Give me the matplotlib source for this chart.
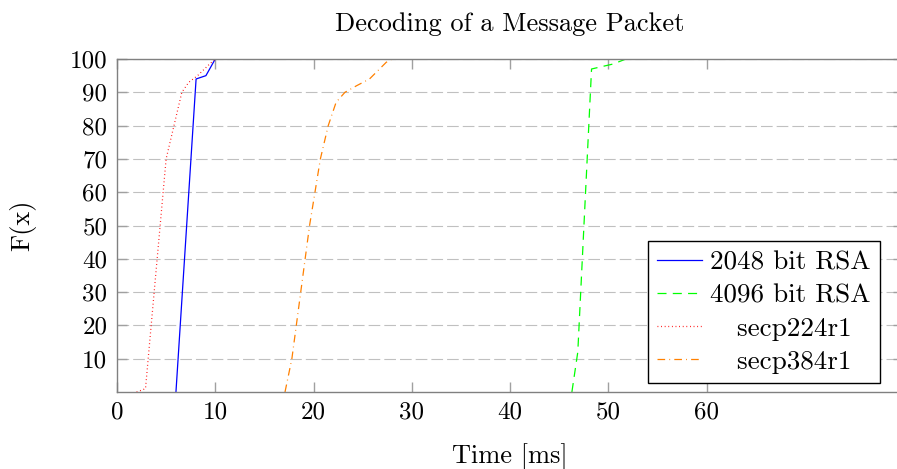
import numpy as np
import matplotlib
matplotlib.use("Agg")
import matplotlib.pyplot as plt

plt.rcParams['font.family'] = ['cmr10', 'DejaVu Serif']
plt.rcParams['font.size'] = 18
plt.rcParams['lines.scale_dashes'] = False

rsa2048_t = [6.0, 8.05, 9.05, 10.0]
rsa2048_f = [0, 94, 95, 100]

rsa4096_t = [46.3, 46.9, 48.3, 50.5, 51.8]
rsa4096_f = [0, 12, 97, 98.5, 100]

secp224_t = [2.0, 2.9, 5.0, 5.8, 6.6, 7.3, 8.2, 9.5, 10.0]
secp224_f = [0, 1, 70, 80, 90, 93, 95, 98.7, 100]

secp384_t = [17.1, 17.8, 19.6, 20.7, 21.5, 22.3, 23.2, 24.4, 25.7, 27.4, 28.0]
secp384_f = [0, 10, 50, 70, 80, 87, 90, 92, 94, 99, 100]

x_ticks = [0, 10, 20, 30, 40, 50, 60]
y_ticks = [10, 20, 30, 40, 50, 60, 70, 80, 90, 100]

fig = plt.figure(figsize=(8.97, 4.69), dpi=100)
ax = fig.add_axes([117 / 897, 1 - 392 / 469, (903 - 117) / 897, (392 - 59) / 469])

lw = 0.9
ax.plot(rsa2048_t, rsa2048_f, color='#0000ff', lw=lw, label='2048 bit RSA')
ax.plot(rsa4096_t, rsa4096_f, color='#00ff00', lw=lw, linestyle=(0, (6.5, 4.5)),
        label='4096 bit RSA')
ax.plot(secp224_t, secp224_f, color='#ff0000', lw=lw, linestyle=(0, (0.6, 2.0)),
        label='   secp224r1')
ax.plot(secp384_t, secp384_f, color='#ff8000', lw=lw,
        linestyle=(0, (5.5, 3.0, 0.6, 3.0)), label='   secp384r1')

ax.set_xlim(0, 80)
ax.set_ylim(0, 100)
ax.set_xticks(x_ticks)
ax.set_yticks(y_ticks)

ax.grid(axis='y', color='#c0c0c0', linestyle=(0, (8.4, 2.9)), lw=0.8)
ax.set_axisbelow(True)
for s in ax.spines.values():
    s.set_color('#808080')
    s.set_linewidth(1.0)
ax.tick_params(direction='in', length=7.5, width=1.0, color='#a0a0a0',
               top=True, right=True, labelsize=18, pad=7)

ax.set_title('Decoding of a Message Packet', fontsize=19, pad=20)
ax.set_xlabel('Time [ms]', fontsize=19, labelpad=14)
ax.set_ylabel('F(x)', fontsize=19, labelpad=24)

leg = ax.legend(loc='lower right', bbox_to_anchor=(880 / 897, 1 - 383 / 469),
                bbox_transform=fig.transFigure, borderaxespad=0,
                fancybox=False, framealpha=1, edgecolor='black',
                fontsize=19.5, handlelength=1.65, labelspacing=0.33,
                borderpad=0.35, handletextpad=0.3)
leg.get_frame().set_linewidth(1.0)

fig.savefig('out.png', dpi=100)
